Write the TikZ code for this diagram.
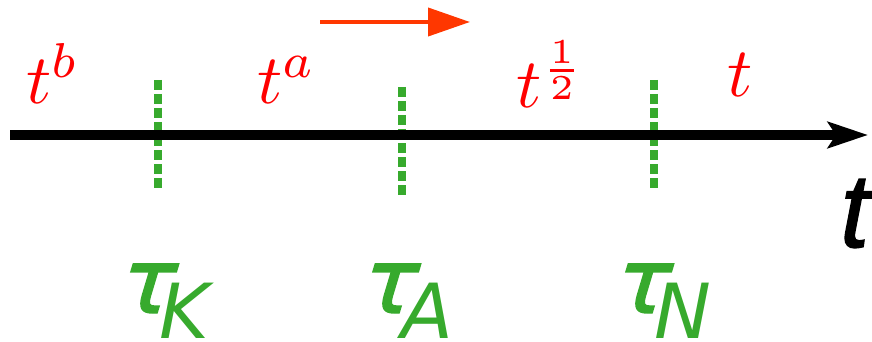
\RequirePackage{fix-cm}
\documentclass[tikz,border=0pt]{standalone}
\usepackage{fontspec}
\newfontfamily\greekfont{DejaVu Sans}
\newfontfamily\taufont{DejaVu Sans}[FakeSlant=0.3, FakeBold=1.6]
\newfontfamily\axisfont{Liberation Sans}[FakeBold=1.2]
\usetikzlibrary{arrows.meta}
\definecolor{cutgreen}{RGB}{55,170,45}
\definecolor{flowred}{RGB}{255,55,0}
\tikzstyle{cut}=[cutgreen, line width=8pt, dash pattern=on 10pt off 4pt]
\tikzstyle{pow}=[text=red, inner sep=0pt, anchor=base west]
\tikzstyle{tau}=[text=cutgreen, inner sep=0pt, anchor=base west, font=\fontsize{90}{90}\selectfont]
\newcommand{\tauidx}[1]{{\taufont τ}\kern-9pt\raisebox{-25pt}{\greekfont\itshape\fontsize{76}{76}\selectfont #1}}

\begin{document}
\begin{tikzpicture}[x=1pt, y=-1pt]
    \useasboundingbox (0,0) rectangle (872,342);
    \coordinate (a0) at (10,135);
    \coordinate (a1) at (868,135);
    \coordinate (k0) at (158,80);
    \coordinate (k1) at (158,188);
    \coordinate (s0) at (402,87);
    \coordinate (s1) at (402,195);
    \coordinate (n0) at (654,80);
    \coordinate (n1) at (654,188);
    \coordinate (f0) at (320,22);
    \coordinate (f1) at (470,22);
    \draw[cut] (k0) -- (k1);
    \draw[cut] (s0) -- (s1);
    \draw[cut] (n0) -- (n1);
    \draw[line width=10pt, -{Stealth[length=40pt, width=26pt, inset=8pt]}] (a0) -- (a1);
    \draw[flowred, line width=4pt, -{Triangle[length=42pt, width=28pt]}] (f0) -- (f1);
    \node[pow] (tb) at (26,103) {\scalebox{7}{$t^{b}$}};
    \node[pow] (ta) at (257,103) {\scalebox{7}{$t^{a}$}};
    \node[pow] (th) at (516,108) {\scalebox{7}{$t^{\frac{1}{2}}$}};
    \node[pow] (tl) at (727,97) {\scalebox{7}{$t$}};
    \node[inner sep=0pt, anchor=base west, font=\axisfont\itshape\fontsize{105}{105}\selectfont] (tax) at (840,247) {t};
    \node[tau] (tk) at (114,313) {\tauidx{K}};
    \node[tau] (tA) at (356,313) {\tauidx{A}};
    \node[tau] (tn) at (609,313) {\tauidx{N}};
\end{tikzpicture}
\end{document}
